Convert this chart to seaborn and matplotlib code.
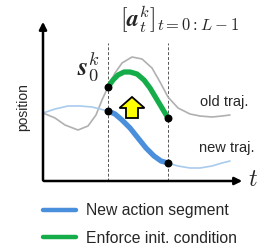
import matplotlib
matplotlib.use("Agg")
import matplotlib.pyplot as plt
from matplotlib.lines import Line2D
import seaborn as sns

sns.set_theme(style="white")
plt.rcParams["font.family"] = ["Liberation Sans", "DejaVu Sans"]
plt.rcParams["mathtext.fontset"] = "cm"

# schematic curves: time t vs position
old_t = [0, 0.6, 1.1, 1.75, 2.25, 2.65, 2.95, 3.25, 3.6, 3.95, 4.45, 4.95, 5.45,
         5.85, 6.25, 6.75, 7.35, 7.85, 8.45, 8.95, 9.35]
old_pos = [3.4, 3.15, 2.8, 2.55, 2.75, 3.3, 4.05, 4.7, 5.4, 5.9, 6.2, 6.1, 5.65,
           4.95, 4.2, 3.65, 3.35, 3.25, 3.2, 3.25, 3.3]

new_t = [0, 0.6, 1.25, 1.85, 2.45, 2.85, 3.25, 3.6, 3.95, 4.35, 4.75, 5.15, 5.55,
         5.9, 6.25, 6.75, 7.35, 7.85, 8.45, 8.95, 9.35]
new_pos = [3.4, 3.6, 3.75, 3.75, 3.7, 3.6, 3.5, 3.35, 3.05, 2.65, 2.15, 1.65, 1.25,
           1.0, 0.9, 0.75, 0.65, 0.65, 0.75, 0.9, 1.0]

seg_t = [3.25, 3.6, 3.95, 4.35, 4.75, 5.15, 5.55, 5.9, 6.25]
seg_pos = [3.5, 3.35, 3.05, 2.65, 2.15, 1.65, 1.25, 1.0, 0.9]

init_t = [3.25, 3.5, 3.75, 4.05, 4.35, 4.7, 5.05, 5.35, 5.65, 5.95, 6.25]
init_pos = [4.7, 5.05, 5.3, 5.45, 5.45, 5.35, 5.05, 4.65, 4.15, 3.65, 3.15]

seg_bounds = [3.25, 6.25]
dot_t = [3.25, 3.25, 6.25, 6.25]
dot_pos = [4.7, 3.5, 3.15, 0.9]

legend_labels = ["New action segment", "Enforce init. condition"]
c_seg = "#4a8fdb"
c_init = "#15ad4a"

fig = plt.figure(figsize=(2.57, 2.5), dpi=100)
ax = fig.add_axes([41 / 257, 1 - 183 / 250, 204 / 257, 165 / 250])
ax.set_xlim(-0.1, 10.1)
ax.set_ylim(-0.1, 8.15)
ax.axis("off")

ax.vlines(seg_bounds, 0, 6.9, colors="#555555", linestyles=(0, (3, 2)), lw=0.7)

sns.lineplot(x=old_t, y=old_pos, ax=ax, color="#b0b0b0", lw=1.2, sort=False, estimator=None)
sns.lineplot(x=new_t, y=new_pos, ax=ax, color="#a9cbec", lw=1.2, sort=False, estimator=None)
sns.lineplot(x=init_t, y=init_pos, ax=ax, color=c_init, lw=3.8, sort=False, estimator=None)
sns.lineplot(x=seg_t, y=seg_pos, ax=ax, color=c_seg, lw=3.8, sort=False, estimator=None)
ax.scatter(dot_t, dot_pos, s=22, color="black", zorder=5)

# axes arrows
ax.annotate("", xy=(0, 8.1), xytext=(0, -0.1),
            arrowprops=dict(arrowstyle="-|>", color="black", lw=1.8, mutation_scale=11),
            annotation_clip=False)
ax.annotate("", xy=(10.1, 0), xytext=(-0.1, 0),
            arrowprops=dict(arrowstyle="-|>", color="black", lw=1.8, mutation_scale=11),
            annotation_clip=False)

# yellow arrow
ax.arrow(4.45, 3.15, 0, 1.05, width=0.6, head_width=1.25, head_length=0.55,
         length_includes_head=True, fc="#ffff00", ec="black", lw=1.3, zorder=4)

ax.text(-1.0, 3.7, "position", rotation=90, ha="center", va="center", fontsize=10, clip_on=False)
ax.text(6.85, 8.1, r"$[\boldsymbol{a}_t^k]_{t=0:L-1}$", ha="center", va="center", fontsize=17, clip_on=False)
ax.text(2.3, 5.7, r"$\boldsymbol{s}_0^k$", ha="center", va="center", fontsize=19)
ax.text(7.85, 3.95, "old traj.", ha="left", va="center", fontsize=10.5)
ax.text(7.8, 1.65, "new traj.", ha="left", va="center", fontsize=10.5, clip_on=False)
ax.text(10.5, 0.05, r"$t$", ha="center", va="center", fontsize=17, clip_on=False)

handles = [Line2D([], [], color=c_seg, lw=3.2), Line2D([], [], color=c_init, lw=3.2)]
fig.legend(handles, legend_labels, loc="upper left", bbox_to_anchor=(43 / 257, 1 - 203 / 250),
           frameon=False, fontsize=11.3, handlelength=2.1, handletextpad=0.62,
           labelspacing=0.8, borderpad=0, borderaxespad=0)

fig.savefig("out.png", dpi=100)
